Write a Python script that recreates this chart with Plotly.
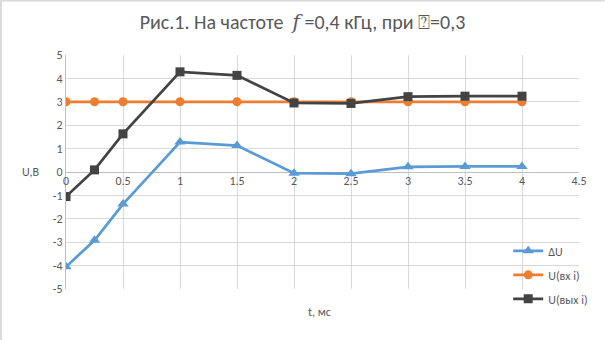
import plotly.graph_objects as go

t = [0, 0.25, 0.5, 1, 1.5, 2, 2.5, 3, 3.5, 4]
du = [-4.05, -2.92, -1.37, 1.28, 1.13, -0.05, -0.07, 0.22, 0.24, 0.24]
u_in = [3, 3, 3, 3, 3, 3, 3, 3, 3, 3]
u_out = [-1.05, 0.09, 1.63, 4.28, 4.13, 2.95, 2.93, 3.22, 3.24, 3.24]
x_ticks = [0, 0.5, 1, 1.5, 2, 2.5, 3, 3.5, 4, 4.5]
y_ticks = [-5, -4, -3, -2, -1, 0, 1, 2, 3, 4, 5]

grey = "#595959"
font = "Calibri, Carlito, Lato, 'Open Sans', sans-serif"

fig = go.Figure()
fig.add_trace(go.Scatter(x=t, y=du, name="ΔU", mode="lines+markers", legendgroup="a",
                         line=dict(color="#5b9bd5", width=2.75),
                         marker=dict(symbol="triangle-up", size=10, color="#5b9bd5")))
fig.add_trace(go.Scatter(x=t, y=u_in, name="U(вх i)", mode="lines+markers", legendgroup="b",
                         line=dict(color="#ed7d31", width=2.75),
                         marker=dict(symbol="circle", size=9, color="#ed7d31")))
fig.add_trace(go.Scatter(x=t, y=u_out, name="U(вых i)", mode="lines+markers", legendgroup="c",
                         line=dict(color="#434343", width=2.75),
                         marker=dict(symbol="square", size=9, color="#434343")))

fig.update_layout(
    width=605, height=340,
    margin=dict(l=66, r=21, t=55, b=51),
    paper_bgcolor="white", plot_bgcolor="white",
    font=dict(family=font, color=grey, size=12),
    title=dict(text="Рис.1. На частоте  <span style='font-family:DejaVu Serif'><i>f</i></span> =0,4 кГц, при ⍰=0,3",
               x=0.5, xanchor="center", y=0.935, yanchor="middle",
               font=dict(size=20, color=grey, family=font)),
    showlegend=True,
    legend=dict(x=0.862, y=0.225, xanchor="left", yanchor="top",
                bgcolor="rgba(0,0,0,0)", font=dict(size=12, color=grey),
                tracegroupgap=5, itemwidth=30),
    xaxis=dict(range=[0, 4.5], tickvals=x_ticks, ticktext=[str(v) for v in x_ticks],
               showgrid=True, gridcolor="#d9d9d9", gridwidth=1,
               zeroline=False, showline=False, ticks="",
               anchor="free", position=0.5,
               tickfont=dict(size=12, color=grey)),
    yaxis=dict(range=[-5, 5], tickvals=y_ticks, ticktext=[str(v) for v in y_ticks],
               showgrid=True, gridcolor="#d9d9d9", gridwidth=1,
               zeroline=True, zerolinecolor="#bfbfbf", zerolinewidth=1,
               showline=True, linecolor="#bfbfbf", linewidth=1, ticks="",
               tickfont=dict(size=12, color=grey)),
)

fig.add_annotation(text="U,B", xref="paper", yref="paper", x=-0.069, y=0.5,
                   xanchor="center", yanchor="middle", showarrow=False,
                   font=dict(size=12, color=grey))
fig.add_annotation(text="t, мс", xref="paper", yref="paper", x=0.495, y=-0.1,
                   xanchor="center", yanchor="middle", showarrow=False,
                   font=dict(size=12, color=grey))

# chart border (top and left visible)
fig.add_shape(type="line", xref="paper", yref="paper", x0=-0.13, x1=1.05, y0=1.233, y1=1.233,
              line=dict(color="#d9d9d9", width=2))
fig.add_shape(type="line", xref="paper", yref="paper", x0=-0.127, x1=-0.127, y0=-0.22, y1=1.233,
              line=dict(color="#d9d9d9", width=2))

fig.write_html("out.html")
